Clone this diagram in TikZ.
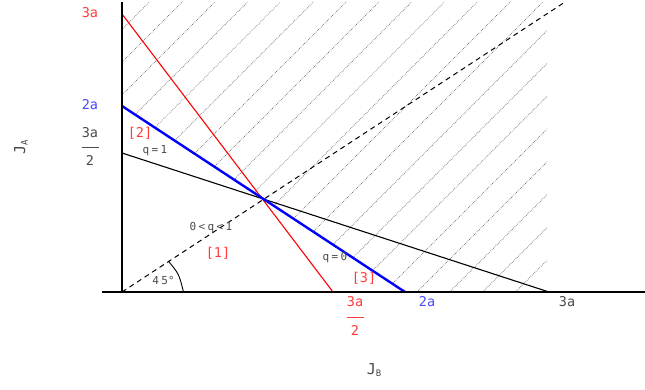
\documentclass[tikz,border=0pt]{standalone}
\usepackage{fontspec}
\setmainfont{DejaVu Sans Mono}
\definecolor{lred}{HTML}{FF3C3C}
\definecolor{lblue}{HTML}{4848FF}
\definecolor{tgray}{HTML}{4A4A4A}
\newcommand\gapp{\hspace{2.4pt}}
\tikzset{
  biglabel/.style={font=\fontsize{13.5}{15}\selectfont, inner sep=0pt},
  smalllabel/.style={font=\fontsize{11}{12}\selectfont, inner sep=0pt, text=tgray},
  axisline/.style={line width=2.4pt, black},
  redline/.style={line width=1.1pt, red},
  blueline/.style={line width=2.4pt, blue},
  blackline/.style={line width=1.1pt, black},
  diagline/.style={line width=1pt, black, dash pattern=on 5pt off 4pt},
  hatchline/.style={line width=0.7pt, black!65, dash pattern=on 0.6pt off 1.2pt},
  barline/.style={line width=1pt},
}
\begin{document}
\begin{tikzpicture}[x=1pt,y=-1pt]
\useasboundingbox (0,0) rectangle (645,390);
% key points
\coordinate (O) at (122,292);
\coordinate (A3) at (122,14);
\coordinate (A2) at (122,106);
\coordinate (A15) at (122,153);
\coordinate (B15) at (333,292);
\coordinate (B2) at (405,292);
\coordinate (B3) at (549,292);
\coordinate (D) at (565,2);
\coordinate (Ytop) at (122,2);
\coordinate (Ybot) at (122,293);
\coordinate (Xl) at (102,292);
\coordinate (Xr) at (645,292);
\coordinate (G1) at (168.3,261);
\coordinate (G2) at (183.5,292);
% hatching
\begin{scope}
  \clip (122,2) -- (547,2) -- (547,292) -- (B2) -- (A2) -- cycle;
  \foreach \k in {0,...,21}{
    \pgfmathsetmacro{\c}{151.3+32.8*\k}
    \draw[hatchline] (\c,0) -- (\c-400,400);
  }
\end{scope}
% diagonal
\draw[diagline] (O) -- (D);
% lines
\draw[redline] (A3) -- (B15);
\draw[blackline] (A15) -- (B3);
\draw[blueline] (A2) -- (B2);
% angle mark
\draw[line width=0.9pt] (G1) .. controls (179,274) .. (G2);
% axes
\draw[axisline] (Ytop) -- (Ybot);
\draw[axisline] (Xl) -- (Xr);
% y labels
\node[biglabel, text=lred] (ly3) at (90,13) {3a};
\node[biglabel, text=lblue] (ly2) at (90,105) {2a};
\node[biglabel, text=tgray] (ly15n) at (90,133) {3a};
\draw[barline, tgray] (81.5,148) -- (98.5,148);
\node[biglabel, text=tgray] (ly15d) at (90,160.5) {2};
\node[biglabel, text=tgray, rotate=90] (JA) at (21,147) {\fontsize{15}{16}\selectfont J\raisebox{-0.3ex}{\fontsize{9}{10}\selectfont A}};
% x labels
\node[biglabel, text=lred] (lx15n) at (355,302) {3a};
\draw[barline, lred] (346.5,317) -- (363.5,317);
\node[biglabel, text=lred] (lx15d) at (355,330) {2};
\node[biglabel, text=lblue] (lx2) at (427,302) {2a};
\node[biglabel, text=tgray] (lx3) at (567,302) {3a};
\node[biglabel, text=tgray] (JB) at (374,370) {\fontsize{15}{16}\selectfont J\raisebox{-0.3ex}{\fontsize{9}{10}\selectfont B}};
% region labels
\node[biglabel, text=lred] (r2) at (140,133) {[2]};
\node[biglabel, text=lred] (r1) at (218,253) {[1]};
\node[biglabel, text=lred] (r3) at (364,278) {[3]};
% small labels
\node[smalllabel] (q1) at (155,151) {q\gapp=\gapp1};
\node[smalllabel] (qm) at (211,228) {0\gapp<\gapp q\gapp<\gapp1};
\node[smalllabel] (q0) at (335,257.5) {q\gapp=\gapp0};
\node[smalllabel] (ang) at (163.5,280) {4\gapp5°};
\end{tikzpicture}
\end{document}
